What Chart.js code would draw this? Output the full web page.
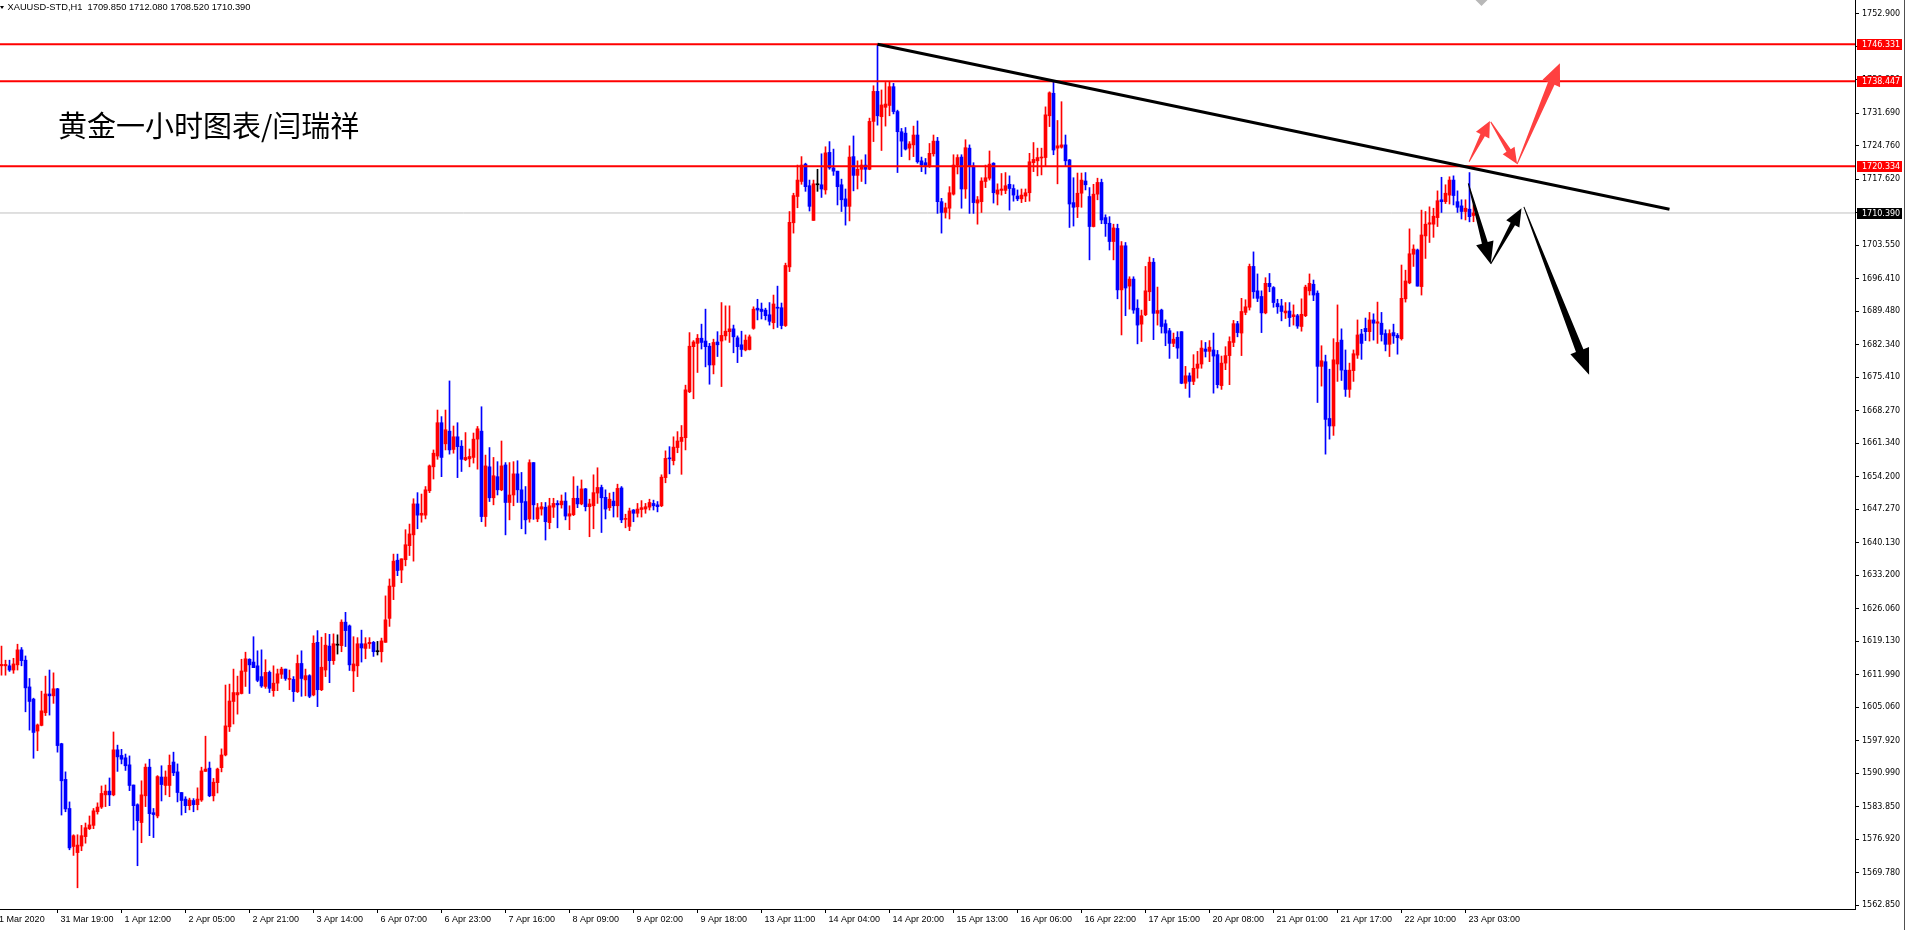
<!DOCTYPE html>
<html><head><meta charset="utf-8">
<script src="https://cdn.jsdelivr.net/npm/chart.js@4.4.0/dist/chart.umd.min.js"></script>
<style>html,body{margin:0;padding:0;background:#fff;overflow:hidden}canvas{display:block}</style>
</head><body>
<canvas id="c" width="1908" height="930" style="width:1908px;height:930px"></canvas>
<script>
const symbolName = "XAUUSD-STD,H1";
const titleText = "黄金一小时图表/闫瑞祥";

const opens = [
1613.9,1613.9,1613.9,1613.0,1614.1,1617.3,1615.1,1609.4,1606.8,1600.0,
1601.2,1603.9,1607.9,1607.5,1609.0,1597.3,1589.7,1583.5,1575.4,1574.1,
1575.5,1577.5,1579.2,1579.9,1582.8,1583.8,1586.4,1587.2,1586.4,1596.0,
1594.8,1594.3,1592.8,1588.5,1584.3,1580.5,1586.2,1592.3,1582.6,1581.9,
1590.2,1588.4,1588.4,1593.4,1591.3,1586.9,1585.5,1584.1,1585.2,1584.3,
1585.3,1591.4,1592.1,1586.2,1589.0,1592.2,1594.9,1600.9,1606.3,1607.7,
1608.0,1612.7,1615.3,1614.7,1613.9,1611.6,1609.5,1612.5,1608.6,1610.2,
1612.1,1613.2,1611.0,1611.0,1608.4,1614.4,1610.9,1611.8,1607.7,1618.9,
1608.8,1613.0,1618.1,1615.0,1618.3,1618.2,1623.2,1622.4,1612.8,1613.9,
1618.6,1617.6,1618.6,1618.9,1616.9,1616.9,1618.9,1624.0,1630.8,1636.4,
1634.3,1636.5,1639.5,1641.8,1648.4,1646.0,1646.0,1651.2,1656.3,1658.6,
1665.7,1661.2,1663.9,1660.0,1662.7,1660.7,1657.8,1658.0,1658.3,1662.2,
1663.9,1645.7,1656.3,1649.7,1654.2,1651.4,1656.7,1648.7,1650.3,1654.8,
1651.4,1648.9,1645.2,1657.2,1645.2,1647.3,1647.7,1644.4,1647.7,1648.5,
1648.2,1649.0,1645.8,1646.1,1649.6,1648.4,1651.6,1647.8,1648.0,1650.7,
1651.9,1649.8,1647.6,1649.0,1648.0,1651.8,1645.1,1643.6,1647.1,1646.4,
1647.2,1647.3,1647.7,1648.5,1648.2,1648.0,1654.0,1658.1,1657.6,1660.4,
1661.7,1662.5,1672.3,1681.9,1682.6,1683.7,1683.1,1682.0,1678.0,1682.9,
1683.1,1684.2,1685.1,1685.7,1683.8,1682.3,1681.2,1681.3,1685.8,1690.1,
1689.9,1689.7,1688.7,1687.0,1690.3,1690.2,1686.4,1698.9,1708.3,1713.9,
1717.1,1720.8,1716.2,1708.8,1716.4,1716.4,1715.3,1723.3,1720.0,1719.3,
1716.4,1713.4,1711.8,1722.4,1718.4,1719.7,1720.6,1719.7,1729.9,1736.3,
1730.9,1732.9,1733.3,1737.3,1732.0,1727.7,1727.4,1724.2,1724.9,1727.0,
1721.5,1721.1,1720.3,1723.0,1725.7,1712.8,1710.5,1711.4,1714.4,1720.6,
1722.3,1715.5,1724.2,1720.4,1712.5,1712.8,1717.1,1717.8,1721.0,1714.4,
1715.2,1715.2,1716.5,1715.6,1714.0,1713.4,1714.0,1714.7,1721.1,1721.5,
1722.1,1722.2,1731.1,1735.9,1724.2,1724.4,1724.9,1721.7,1712.6,1711.7,
1714.6,1717.2,1713.9,1707.5,1714.4,1716.9,1709.4,1708.2,1704.3,1707.1,
1694.0,1703.4,1694.8,1696.3,1690.1,1686.7,1688.7,1693.6,1699.9,1689.0,
1689.7,1686.8,1685.3,1682.6,1683.9,1685.1,1674.1,1675.7,1674.5,1677.3,
1678.2,1681.4,1680.9,1681.2,1680.2,1673.6,1678.4,1680.0,1682.8,1686.8,
1684.8,1689.2,1690.3,1699.0,1693.8,1692.6,1689.1,1695.4,1694.5,1691.1,
1690.6,1689.1,1689.5,1688.3,1688.5,1686.2,1688.5,1693.8,1695.2,1693.3,
1677.7,1678.7,1666.6,1665.0,1678.2,1683.3,1676.9,1672.8,1676.8,1680.1,
1684.6,1685.8,1685.1,1687.6,1686.9,1686.9,1684.7,1682.4,1684.9,1684.3,
1683.6,1692.1,1695.5,1701.6,1702.5,1694.7,1705.5,1708.0,1708.0,1709.4,
1713.2,1712.8,1714.2,1717.4,1712.8,1711.9,1710.7,1711.2,1709.85
];
const highs = [
1618.1,1615.1,1615.1,1615.5,1618.5,1617.8,1616.0,1611.2,1607.0,1601.5,
1608.5,1611.7,1613.0,1612.4,1609.1,1597.4,1591.3,1584.9,1577.9,1577.9,
1579.9,1580.4,1581.9,1583.5,1584.7,1588.3,1588.5,1590.0,1599.8,1597.0,
1596.1,1595.1,1594.7,1588.5,1584.5,1589.4,1593.0,1594.0,1583.5,1590.5,
1592.6,1591.5,1594.9,1595.5,1593.0,1586.9,1586.0,1585.7,1585.6,1587.9,
1592.3,1598.9,1593.4,1589.9,1592.1,1596.2,1609.8,1610.0,1613.2,1611.7,
1615.3,1616.8,1615.4,1620.1,1617.1,1617.3,1615.2,1612.8,1613.9,1613.2,
1613.6,1613.2,1613.0,1611.6,1616.2,1617.1,1613.2,1612.0,1620.3,1621.4,
1620.0,1620.8,1620.6,1620.7,1620.5,1623.7,1625.3,1622.6,1620.1,1619.9,
1621.5,1619.9,1619.9,1619.1,1619.1,1619.8,1628.8,1632.4,1637.7,1637.7,
1636.7,1642.9,1644.1,1649.5,1650.8,1650.5,1652.1,1656.7,1659.9,1668.4,
1667.0,1668.4,1674.6,1665.0,1665.7,1661.9,1663.6,1660.1,1663.5,1664.9,
1669.1,1658.8,1660.4,1658.3,1657.4,1661.8,1657.2,1657.2,1657.4,1657.6,
1655.1,1652.1,1657.8,1657.2,1648.5,1648.7,1648.7,1649.6,1649.6,1649.1,
1650.3,1650.8,1648.0,1654.2,1652.2,1653.5,1651.7,1649.4,1654.6,1656.1,
1652.4,1651.4,1650.7,1650.9,1652.6,1652.1,1646.2,1647.5,1647.2,1648.5,
1649.1,1648.5,1649.4,1649.2,1648.9,1654.6,1659.7,1660.6,1662.7,1663.8,
1665.1,1673.7,1684.9,1683.2,1684.5,1686.7,1689.9,1682.6,1683.5,1685.1,
1691.3,1690.6,1690.6,1686.5,1684.2,1685.2,1684.4,1684.4,1690.4,1692.0,
1691.2,1690.1,1691.3,1692.9,1694.8,1691.2,1699.7,1710.7,1714.6,1720.6,
1722.4,1721.0,1717.4,1717.4,1719.7,1723.0,1724.5,1725.6,1724.0,1719.3,
1717.6,1715.5,1724.7,1726.8,1721.5,1721.7,1722.8,1730.6,1737.5,1746.331,
1736.6,1738.2,1738.3,1738.0,1732.3,1728.4,1728.6,1725.6,1728.9,1730.0,
1722.3,1722.0,1725.2,1727.0,1726.5,1713.5,1712.5,1716.0,1722.8,1722.8,
1722.8,1726.0,1724.9,1721.1,1713.9,1717.9,1720.6,1723.6,1721.1,1716.6,
1718.8,1719.0,1718.3,1716.4,1715.3,1715.5,1715.5,1723.1,1725.4,1724.2,
1724.2,1733.0,1736.2,1738.447,1730.1,1734.1,1727.0,1721.8,1717.9,1718.9,
1718.9,1719.0,1715.8,1716.5,1717.8,1717.6,1710.0,1709.6,1708.0,1708.0,
1704.3,1704.1,1696.8,1696.8,1691.9,1689.7,1699.0,1701.0,1700.7,1694.6,
1689.9,1687.6,1685.8,1684.8,1685.1,1685.1,1677.7,1676.3,1680.2,1680.9,
1683.2,1682.8,1683.2,1684.8,1681.1,1679.9,1681.9,1684.0,1687.5,1687.3,
1692.2,1691.9,1699.5,1702.1,1697.4,1693.8,1696.6,1697.5,1694.7,1692.0,
1692.0,1691.3,1691.3,1690.8,1688.8,1692.1,1695.0,1697.4,1696.1,1693.8,
1682.1,1680.1,1677.1,1683.6,1690.8,1685.7,1681.2,1678.4,1681.2,1687.6,
1685.6,1688.0,1689.2,1688.9,1691.4,1689.2,1685.5,1685.5,1686.7,1684.7,
1699.3,1698.2,1707.0,1703.6,1702.7,1711.0,1710.7,1711.7,1711.4,1715.1,
1718.0,1716.4,1718.1,1718.3,1715.1,1713.2,1713.2,1719.0,1712.08
];
const lows = [
1611.9,1611.9,1612.7,1612.3,1613.0,1613.9,1604.1,1600.2,1594.2,1595.8,
1601.1,1603.3,1603.4,1605.9,1595.5,1582.1,1582.8,1574.7,1573.5,1566.6,
1574.5,1576.1,1579.0,1579.2,1582.3,1583.5,1583.9,1584.1,1586.2,1591.4,
1593.0,1591.6,1587.3,1578.9,1571.3,1576.2,1583.9,1577.7,1577.3,1581.5,
1585.1,1586.4,1586.0,1590.5,1584.9,1582.1,1582.6,1583.2,1582.8,1583.2,
1585.0,1591.4,1586.0,1585.1,1586.8,1591.3,1594.7,1599.9,1601.5,1603.6,
1607.9,1609.5,1608.0,1613.5,1610.5,1609.3,1609.1,1608.2,1607.4,1608.6,
1611.2,1610.8,1608.8,1606.3,1608.2,1607.4,1607.5,1607.1,1607.5,1605.2,
1608.6,1611.6,1610.3,1614.2,1616.4,1616.9,1618.0,1612.9,1608.4,1611.6,
1614.7,1615.4,1617.6,1615.9,1616.2,1614.7,1618.9,1622.3,1628.0,1633.1,
1631.6,1635.2,1637.4,1636.2,1643.1,1644.5,1645.2,1650.8,1653.7,1657.9,
1654.2,1659.9,1659.0,1659.2,1654.0,1655.3,1657.6,1656.3,1657.1,1655.8,
1644.6,1643.6,1648.9,1648.2,1650.3,1651.2,1641.8,1645.0,1648.0,1648.7,
1643.1,1642.0,1644.5,1645.1,1644.6,1646.0,1640.7,1643.1,1645.5,1643.3,
1647.5,1645.0,1642.9,1645.9,1647.6,1648.2,1646.9,1641.4,1643.1,1648.5,
1642.3,1645.2,1647.0,1645.6,1645.6,1644.4,1643.3,1642.7,1644.6,1645.6,
1645.6,1646.4,1647.1,1647.1,1646.7,1647.8,1652.9,1654.8,1656.7,1659.3,
1654.7,1659.9,1672.1,1670.8,1676.4,1681.4,1677.6,1673.9,1676.1,1679.8,
1673.4,1683.3,1682.8,1680.6,1678.5,1679.8,1681.0,1681.2,1685.6,1687.6,
1687.8,1687.6,1686.5,1685.7,1686.0,1685.7,1686.2,1697.9,1706.1,1711.5,
1716.5,1715.0,1710.8,1708.8,1715.0,1713.7,1714.4,1719.7,1718.4,1712.1,
1710.7,1707.8,1708.7,1715.1,1715.5,1717.1,1716.6,1719.6,1725.6,1729.1,
1723.7,1728.9,1731.1,1731.5,1719.0,1722.4,1723.8,1721.7,1722.4,1721.0,
1719.2,1718.7,1720.1,1722.5,1710.3,1706.1,1709.3,1709.1,1714.2,1718.7,
1711.4,1713.5,1710.3,1710.3,1708.0,1710.5,1715.8,1717.4,1712.5,1712.1,
1714.2,1714.5,1711.0,1712.9,1713.0,1712.6,1712.8,1712.9,1719.2,1718.3,
1718.5,1720.3,1728.8,1722.8,1716.6,1724.2,1720.3,1707.3,1707.6,1709.4,
1711.6,1715.3,1700.4,1707.4,1713.2,1708.1,1705.4,1702.5,1700.4,1692.1,
1684.4,1688.5,1689.9,1689.0,1682.5,1683.0,1688.5,1691.7,1683.4,1686.5,
1684.8,1682.1,1679.4,1681.9,1679.4,1674.0,1673.0,1671.1,1673.8,1675.2,
1677.3,1679.7,1678.7,1672.0,1673.1,1672.8,1677.0,1673.8,1681.9,1684.0,
1680.0,1688.7,1689.7,1692.2,1691.5,1684.9,1688.9,1693.6,1690.3,1689.0,
1687.4,1687.9,1686.2,1686.5,1685.8,1685.2,1688.3,1692.9,1691.7,1670.0,
1673.5,1659.0,1662.2,1663.0,1674.5,1674.7,1671.3,1671.1,1674.5,1679.4,
1679.2,1683.2,1683.1,1683.3,1682.6,1683.1,1681.0,1679.8,1682.6,1680.3,
1683.3,1691.4,1695.3,1699.0,1694.8,1692.9,1700.7,1704.1,1705.2,1707.5,
1710.5,1712.4,1712.3,1712.1,1710.5,1709.1,1708.9,1708.5,1708.52
];
const closes = [
1614.2,1614.2,1613.0,1614.3,1617.3,1615.0,1609.2,1606.3,1599.7,1601.3,
1604.3,1607.9,1607.5,1609.0,1596.9,1589.4,1583.4,1575.1,1577.7,1575.7,
1577.7,1579.4,1580.0,1583.0,1583.8,1586.7,1587.2,1586.4,1596.0,1594.5,
1594.0,1592.6,1588.4,1584.1,1580.9,1586.4,1592.3,1582.4,1582.2,1590.3,
1588.6,1590.2,1592.7,1591.1,1586.9,1585.2,1584.1,1585.3,1584.3,1585.5,
1591.5,1591.9,1586.2,1589.1,1591.9,1594.9,1601.1,1606.4,1608.2,1608.2,
1612.8,1615.4,1614.1,1613.5,1610.8,1609.6,1612.5,1609.1,1610.2,1612.2,
1613.2,1611.2,1611.1,1608.4,1614.4,1611.2,1611.8,1607.4,1618.7,1608.8,
1613.6,1618.3,1615.0,1618.6,1618.3,1623.2,1621.4,1614.1,1614.3,1618.6,
1617.7,1618.6,1618.9,1616.9,1616.9,1619.2,1623.7,1630.9,1636.2,1634.2,
1636.7,1639.7,1642.0,1648.4,1646.0,1646.4,1651.4,1656.5,1659.2,1665.7,
1658.3,1664.2,1659.9,1662.7,1660.6,1657.9,1658.3,1658.5,1662.2,1664.4,
1645.7,1656.5,1649.7,1654.4,1651.4,1656.5,1648.7,1650.3,1654.8,1651.4,
1648.7,1645.0,1657.2,1648.2,1647.6,1647.8,1644.6,1648.0,1648.5,1648.2,
1649.0,1645.8,1646.3,1649.6,1648.4,1651.6,1647.8,1648.4,1650.8,1651.9,
1649.7,1647.3,1649.4,1648.0,1651.7,1645.0,1645.3,1646.9,1646.4,1647.3,
1647.6,1647.8,1648.7,1648.0,1647.8,1654.1,1658.1,1658.0,1660.5,1661.8,
1662.6,1672.7,1682.0,1682.9,1683.7,1682.8,1681.9,1678.0,1682.8,1682.3,
1684.3,1685.2,1685.7,1684.0,1681.9,1681.3,1683.3,1684.0,1689.9,1689.7,
1689.4,1688.5,1687.3,1691.0,1690.1,1686.4,1699.2,1708.4,1714.1,1717.4,
1720.6,1716.0,1711.8,1716.6,1716.4,1715.5,1723.2,1720.0,1719.3,1716.0,
1713.2,1711.8,1722.3,1718.4,1719.7,1720.6,1719.7,1729.9,1736.3,1731.1,
1733.4,1733.6,1737.3,1732.0,1727.7,1725.7,1724.0,1725.1,1727.0,1721.3,
1720.6,1720.5,1723.1,1725.7,1712.8,1710.5,1711.5,1714.7,1720.6,1722.2,
1715.5,1724.3,1720.3,1712.6,1713.2,1717.2,1717.9,1720.8,1714.7,1715.3,
1715.5,1716.2,1715.6,1714.2,1713.4,1714.2,1714.7,1721.3,1721.8,1722.2,
1722.3,1731.3,1736.0,1723.8,1724.7,1724.9,1721.5,1712.3,1711.6,1714.6,
1717.4,1716.4,1707.5,1714.4,1716.9,1708.9,1708.1,1704.3,1707.2,1694.0,
1703.4,1694.4,1696.3,1689.7,1686.5,1688.5,1693.8,1699.9,1689.0,1689.6,
1686.2,1684.8,1682.6,1683.5,1681.6,1674.1,1675.7,1674.5,1677.3,1678.2,
1681.6,1680.9,1681.8,1679.9,1673.8,1678.4,1680.0,1683.0,1686.8,1684.9,
1689.4,1690.4,1699.0,1693.6,1692.2,1689.1,1695.4,1694.7,1691.3,1690.4,
1689.4,1689.5,1688.1,1688.7,1686.3,1688.8,1694.6,1695.4,1692.9,1677.7,
1678.9,1666.4,1665.0,1679.1,1682.8,1676.9,1672.8,1676.9,1680.4,1684.4,
1682.6,1685.1,1687.6,1686.9,1687.2,1684.5,1682.4,1684.7,1684.2,1683.8,
1692.2,1695.9,1701.7,1702.7,1694.8,1705.7,1708.0,1708.3,1709.7,1713.0,
1712.8,1714.6,1717.4,1714.1,1711.6,1710.7,1711.4,1709.6,1710.39
];

// time axis: bar index of each label and its text
const xTickBars = [-2.6,14,30,46,62,78,94,110,126,142,158,174,190,206,222,238,254,270,286,302,318,334,350,366];
const xTickLabels = ["31 Mar 2020","31 Mar 19:00","1 Apr 12:00","2 Apr 05:00","2 Apr 21:00","3 Apr 14:00","6 Apr 07:00","6 Apr 23:00","7 Apr 16:00","8 Apr 09:00","9 Apr 02:00","9 Apr 18:00","13 Apr 11:00","14 Apr 04:00","14 Apr 20:00","15 Apr 13:00","16 Apr 06:00","16 Apr 22:00","17 Apr 15:00","20 Apr 08:00","21 Apr 01:00","21 Apr 17:00","22 Apr 10:00","23 Apr 03:00"];
// price axis tick labels
const yTicks = [1752.900,1745.760,1738.830,1731.690,1724.760,1717.620,1710.480,1703.550,1696.410,1689.480,1682.340,1675.410,1668.270,1661.340,1654.200,1647.270,1640.130,1633.200,1626.060,1619.130,1611.990,1605.060,1597.920,1590.990,1583.850,1576.920,1569.780,1562.850];

// horizontal levels and current price
const levels = [1746.331, 1738.447, 1720.334];
const lastPrice = 1710.390;
// trend line: [bar, price] end points
const trendBars = [219, 417];
const trendPrices = [1746.331, 1711.2];
// drawn arrows: [fromBar, fromPrice, toBar, toPrice]
const redArrows = [[366.9,1721.3,372.1,1730.0],[372.3,1729.8,378.9,1720.8],[378.9,1720.8,389.6,1742.3]];
const blackArrows = [[366.7,1716.7,372.3,1699.5],[372.3,1699.5,380.0,1711.4],[380.6,1711.7,396.9,1675.9]];
const markerBar = 370;

// ---------- view / style ----------
const XMIN = -0.375, XMAX = 463.375;
const YMIN = 1562.08, YMAX = 1755.77;
const UP = '#ff0000', DOWN = '#0000ff', DOJI = '#000000';

const idx = opens.map((_, i) => i);
const cols = idx.map(i => closes[i] > opens[i] ? UP : (closes[i] < opens[i] ? DOWN : DOJI));

function arrow(ctx, x1, y1, x2, y2, w0, w1, hw, hl, color) {
  const dx = x2 - x1, dy = y2 - y1, L = Math.hypot(dx, dy);
  const ux = dx / L, uy = dy / L, nx = -uy, ny = ux;
  const bx = x2 - ux * hl, by = y2 - uy * hl;
  ctx.beginPath();
  ctx.moveTo(x1 + nx * w0 / 2, y1 + ny * w0 / 2);
  ctx.lineTo(bx + nx * w1 / 2, by + ny * w1 / 2);
  ctx.lineTo(bx + nx * hw / 2, by + ny * hw / 2);
  ctx.lineTo(x2, y2);
  ctx.lineTo(bx - nx * hw / 2, by - ny * hw / 2);
  ctx.lineTo(bx - nx * w1 / 2, by - ny * w1 / 2);
  ctx.lineTo(x1 - nx * w0 / 2, y1 - ny * w0 / 2);
  ctx.closePath();
  ctx.fillStyle = color;
  ctx.fill();
}

const redStyle = [[1,5,15,16],[1,5,14,16],[1,7,19,22]];
const blackStyle = [[1,6,18,22],[1,5,15,18],[1,8,20,26]];

const overlay = {
  id: 'overlay',
  afterDraw(chart) {
    const ctx = chart.ctx, xs = chart.scales.x, ys = chart.scales.y;
    ctx.save();
    // arrows
    redArrows.forEach((a, k) => {
      const s = redStyle[k];
      arrow(ctx, xs.getPixelForValue(a[0]), ys.getPixelForValue(a[1]), xs.getPixelForValue(a[2]), ys.getPixelForValue(a[3]), s[0], s[1], s[2], s[3], '#ff4040');
    });
    blackArrows.forEach((a, k) => {
      const s = blackStyle[k];
      arrow(ctx, xs.getPixelForValue(a[0]), ys.getPixelForValue(a[1]), xs.getPixelForValue(a[2]), ys.getPixelForValue(a[3]), s[0], s[1], s[2], s[3], '#000000');
    });
    // small grey marker at top edge
    const mx = xs.getPixelForValue(markerBar);
    ctx.fillStyle = '#b8b8b8';
    ctx.beginPath(); ctx.moveTo(mx - 6, 0); ctx.lineTo(mx + 6, 0); ctx.lineTo(mx, 6); ctx.closePath(); ctx.fill();

    // header line
    const n = opens.length - 1;
    ctx.fillStyle = '#000';
    ctx.beginPath(); ctx.moveTo(0, 6); ctx.lineTo(4, 6); ctx.lineTo(2, 9); ctx.closePath(); ctx.fill();
    ctx.font = '9.3px "Liberation Sans", Arial, sans-serif';
    ctx.textBaseline = 'middle'; ctx.textAlign = 'left';
    ctx.fillText(symbolName + '  ' + [opens[n], highs[n], lows[n], closes[n]].map(v => v.toFixed(3)).join(' '), 7.5, 7.5);

    // Chinese title
    ctx.font = '29px "Noto Sans CJK SC", sans-serif';
    ctx.fillStyle = '#000';
    ctx.textBaseline = 'middle';
    ctx.fillText(titleText, 58, 126);

    // price tags on axis
    ctx.font = '8px "DejaVu Sans", sans-serif';
    const tag = (p, bg) => {
      const py = ys.getPixelForValue(p);
      ctx.fillStyle = bg;
      ctx.fillRect(1857, Math.round(py) - 5, 45, 11);
      ctx.fillStyle = '#fff';
      ctx.fillText(p.toFixed(3), 1862, Math.round(py) + 0.5);
    };
    levels.forEach(p => tag(p, '#ff0000'));
    tag(lastPrice, '#000000');

    // window right edge
    ctx.fillStyle = '#505050';
    ctx.fillRect(1904, 0, 1, chart.height);
    ctx.restore();
  }
};

const lineDs = (pts, color, w, order) => ({
  type: 'line', data: pts, borderColor: color, borderWidth: w, pointRadius: 0,
  fill: false, tension: 0, order: order
});

new Chart(document.getElementById('c'), {
  type: 'bar',
  data: {
    datasets: [
      lineDs([{x: XMIN, y: lastPrice}, {x: XMAX, y: lastPrice}], '#c0c0c0', 1, 10),
      { label: 'wick', data: idx.map(i => ({x: i, y: [lows[i], highs[i]]})), backgroundColor: cols,
        barThickness: 1, grouped: false, order: 5 },
      { label: 'body', data: idx.map(i => ({x: i, y: [Math.min(opens[i], closes[i]), Math.max(opens[i], closes[i])]})),
        backgroundColor: cols, barThickness: 3, grouped: false, minBarLength: 1, order: 4 },
      ...levels.map(p => lineDs([{x: XMIN, y: p}, {x: XMAX, y: p}], '#ff0000', 2, 2)),
      lineDs(trendBars.map((b, k) => ({x: b, y: trendPrices[k]})), '#000000', 3, 1)
    ]
  },
  options: {
    responsive: false, animation: false, devicePixelRatio: 1,
    layout: { padding: 0 },
    plugins: { legend: { display: false }, tooltip: { enabled: false } },
    scales: {
      x: {
        type: 'linear', min: XMIN, max: XMAX, position: 'bottom', offset: false,
        afterFit(s) { s.height = 21; s.paddingLeft = 0; s.paddingRight = 0; },
        afterBuildTicks(s) { s.ticks = xTickBars.map(v => ({value: v})); },
        ticks: { autoSkip: false, maxRotation: 0, minRotation: 0, align: 'start', labelOffset: 3, padding: 1,
                 color: '#000', font: { family: '"Liberation Sans", Arial, sans-serif', size: 9 },
                 callback: (v, i) => xTickLabels[i] },
        grid: { offset: false, drawOnChartArea: false, drawTicks: true, tickLength: 4, color: '#000', lineWidth: 1 },
        border: { display: true, color: '#000', width: 1 }
      },
      y: {
        type: 'linear', position: 'right', min: YMIN, max: YMAX,
        afterFit(s) { s.width = 53; s.paddingTop = 0; s.paddingBottom = 0; },
        afterBuildTicks(s) { s.ticks = yTicks.map(v => ({value: v})); },
        ticks: { autoSkip: false, padding: 3, color: '#000', font: { family: '"DejaVu Sans", sans-serif', size: 8 },
                 callback: v => Number(v).toFixed(3) },
        grid: { drawOnChartArea: false, drawTicks: true, tickLength: 4, color: '#000', lineWidth: 1 },
        border: { display: true, color: '#000', width: 1 }
      }
    }
  },
  plugins: [overlay]
});
</script>
</body></html>
